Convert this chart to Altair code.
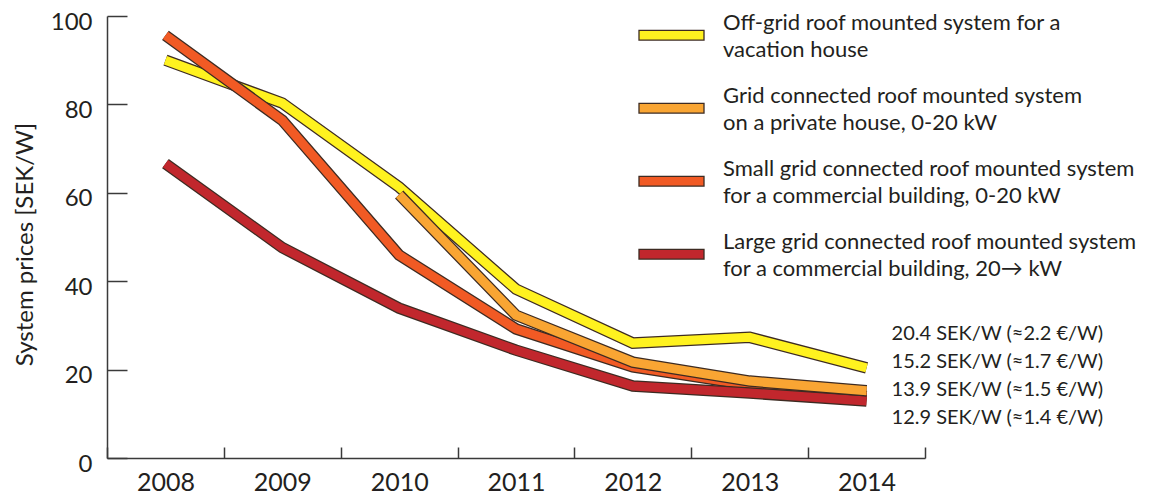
import altair as alt
import pandas as pd

years = [2008, 2009, 2010, 2011, 2012, 2013, 2014]
series_names = [
    "Off-grid roof mounted system for a|vacation house",
    "Grid connected roof mounted system|on a private house, 0-20 kW",
    "Small grid connected roof mounted system|for a commercial building, 0-20 kW",
    "Large grid connected roof mounted system|for a commercial building, 20\u2192 kW",
]
offgrid = [90.0, 80.3, 61.3, 38.2, 26.0, 27.3, 20.4]
private_house = [None, None, 59.6, 32.3, 21.7, 17.4, 15.2]
small_commercial = [95.6, 76.4, 45.9, 29.2, 20.6, 16.5, 13.9]
large_commercial = [66.6, 47.6, 33.9, 24.4, 16.3, 14.7, 12.9]
series_values = [offgrid, private_house, small_commercial, large_commercial]
colors = ["#FFF21F", "#F9A533", "#F15A24", "#C1272D"]
draw_order = [0, 2, 3, 1]
end_labels = [
    "20.4 SEK/W (\u22482.2 \u20ac/W)",
    "15.2 SEK/W (\u22481.7 \u20ac/W)",
    "13.9 SEK/W (\u22481.5 \u20ac/W)",
    "12.9 SEK/W (\u22481.4 \u20ac/W)",
]
y_ticks = [0, 20, 40, 60, 80, 100]
x_bounds = [2007.5, 2008.5, 2009.5, 2010.5, 2011.5, 2012.5, 2013.5, 2014.5]

rows = []
for name, vals in zip(series_names, series_values):
    for yr, v in zip(years, vals):
        if v is not None:
            rows.append({"series": name, "year": yr, "value": v})
df = pd.DataFrame(rows)

FONT = "Lato"
TXT = "#231f20"
AX = "#3a3a3a"
OUTLINE = "#3d2b22"

xs = alt.Scale(domain=[2007.5, 2014.5], nice=False, zero=False)
ys = alt.Scale(domain=[0, 100], nice=False)

tick_x_axis = alt.Axis(values=x_bounds, orient="bottom", offset=-11, tickSize=11,
                       tickColor=AX, tickWidth=1.5, domain=False, labels=False,
                       grid=False, title=None)
tick_y_axis = alt.Axis(values=y_ticks, orient="left", offset=-20, tickSize=20,
                       tickColor=AX, tickWidth=1.5, domain=False, labels=False,
                       grid=False, title=None)
main_x_axis = alt.Axis(values=years, orient="bottom", format="d", ticks=False, tickSize=0,
                       domain=True, domainColor=AX, domainWidth=1.5, grid=False,
                       labelFont=FONT, labelFontSize=25, labelColor=TXT, labelPadding=12,
                       title=None)
main_y_axis = alt.Axis(values=y_ticks, orient="left", ticks=False, tickSize=0,
                       domain=True, domainColor=AX, domainWidth=1.5, grid=False,
                       labelFont=FONT, labelFontSize=24, labelColor=TXT, labelPadding=15,
                       labelOffset=6,
                       title="System prices [SEK/W]", titleFont=FONT, titleFontSize=24,
                       titleFontWeight="normal", titleColor=TXT, titleAngle=270,
                       titleAlign="center", titleBaseline="alphabetic",
                       titleX=-75, titleY=228)

base = alt.Chart(df)

legend_layer = base.transform_filter("false").mark_point(filled=True).encode(
    x=alt.X("year:Q", scale=xs, axis=tick_x_axis),
    y=alt.Y("value:Q", scale=ys, axis=tick_y_axis),
    fill=alt.Fill("series:N", sort=series_names,
                  scale=alt.Scale(domain=series_names, range=colors),
                  legend=alt.Legend(title=None, orient="none", legendX=531, legendY=-27,
                                    symbolType="M-1,0.24L1,0.24L1,0.54L-1,0.54Z",
                                    symbolSize=4225, symbolStrokeColor=OUTLINE,
                                    symbolStrokeWidth=1.3, symbolOpacity=1,
                                    labelExpr="split(datum.label, '|')",
                                    labelFont=FONT, labelFontSize=22, labelColor=TXT,
                                    labelLimit=600, labelBaseline="middle",
                                    labelOffset=18, rowPadding=1, padding=0, offset=0)),
)

layers = [legend_layer]
first = True
for idx in draw_order:
    name = series_names[idx]
    sub = base.transform_filter(alt.datum.series == name)
    if first:
        xa, ya = main_x_axis, main_y_axis
        first = False
    else:
        xa, ya = None, None
    outline = sub.mark_line(color=OUTLINE, strokeWidth=11.5, strokeCap="butt",
                            strokeJoin="miter").encode(
        x=alt.X("year:Q", scale=xs, axis=xa),
        y=alt.Y("value:Q", scale=ys, axis=ya),
    )
    fill = sub.mark_line(color=colors[idx], strokeWidth=9, strokeCap="butt",
                         strokeJoin="miter").encode(
        x=alt.X("year:Q", scale=xs, axis=None),
        y=alt.Y("value:Q", scale=ys, axis=None),
    )
    layers += [outline, fill]

annot = alt.Chart(pd.DataFrame({"year": [years[-1]]})).mark_text(
    text=end_labels, align="left", baseline="middle", font=FONT, fontSize=20,
    color=TXT, lineHeight=28, dx=25,
).encode(
    x=alt.X("year:Q", scale=xs, axis=None),
    y=alt.value(318),
)
layers.append(annot)

chart = alt.layer(*layers).resolve_axis(x="independent", y="independent").properties(
    width=818, height=442,
    autosize=alt.AutoSizeParams(type="none"),
    padding={"left": 99, "top": 8, "right": 218, "bottom": 36},
).configure(
    style={"guide-label": {"lineHeight": 27}}
).configure_view(stroke=None)

chart.save("out.html", embed_options={"renderer": "svg", "actions": False})
